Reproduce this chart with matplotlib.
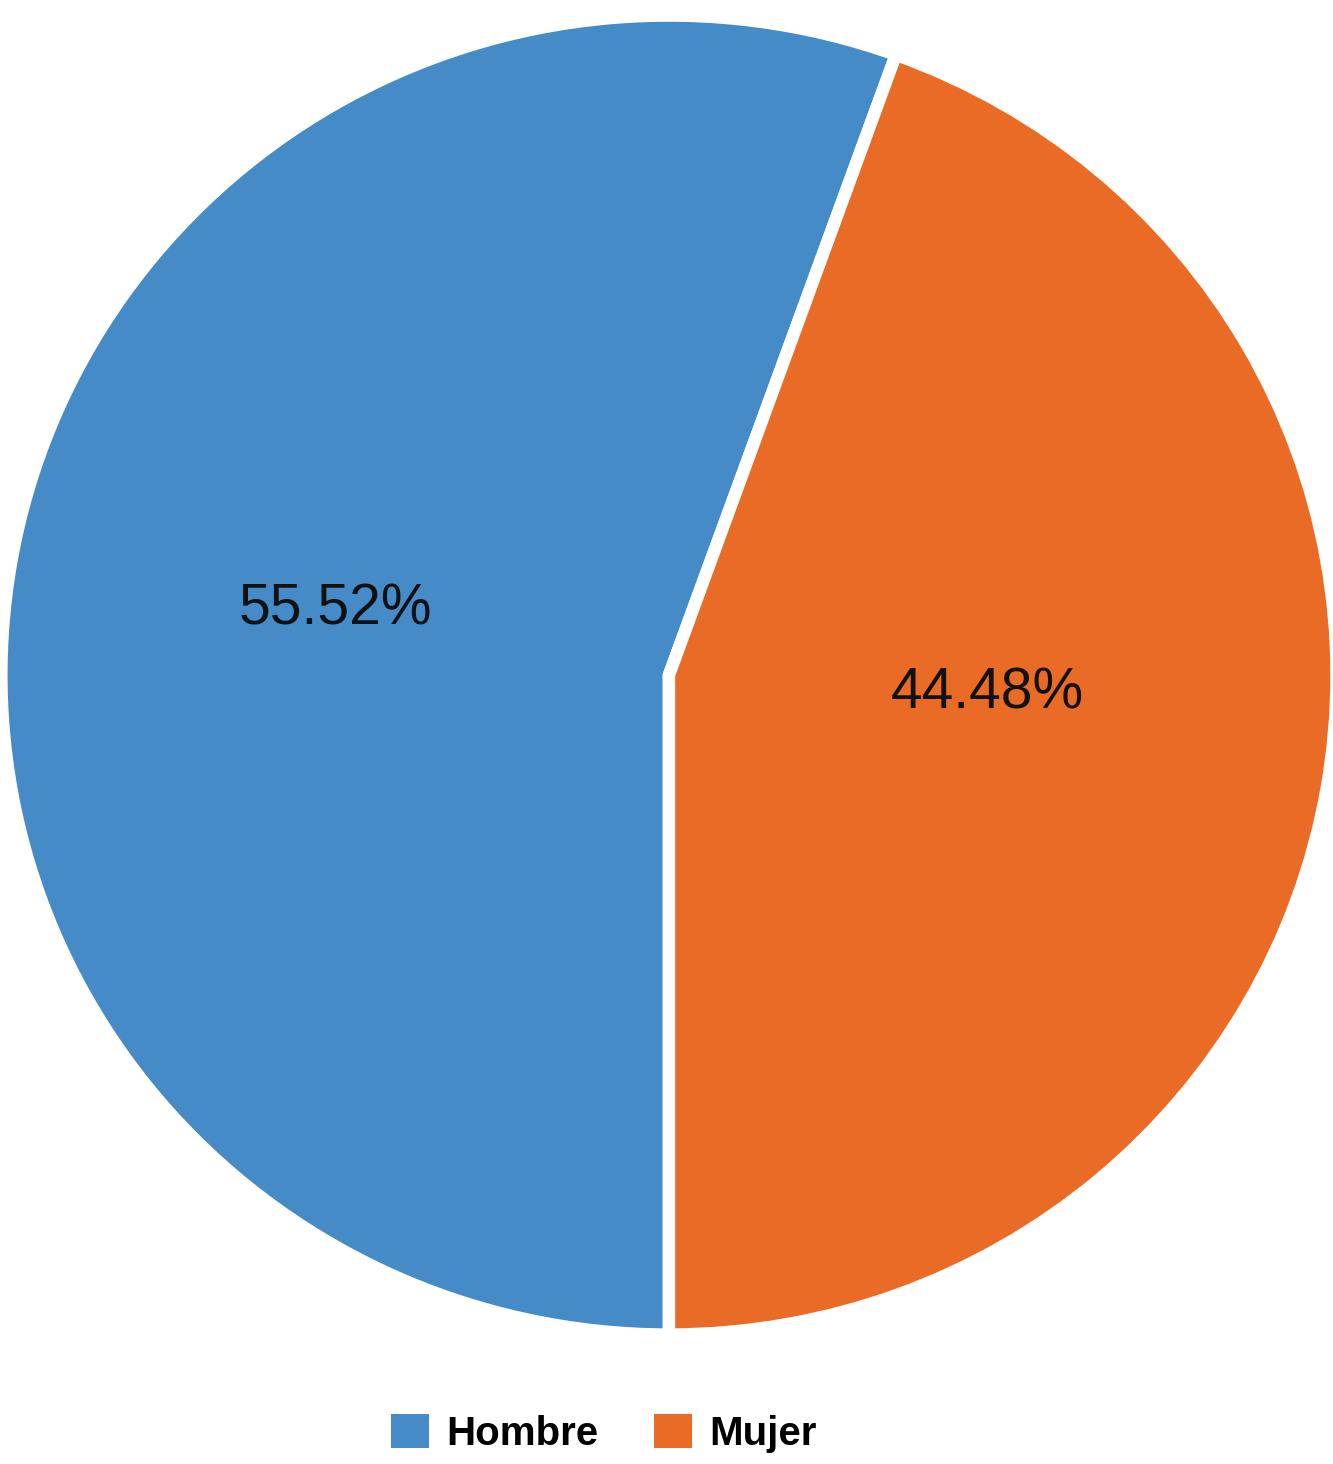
import matplotlib.pyplot as plt

# Distribución por sexo
categorias = ['Hombre', 'Mujer']
porcentajes = [55.52, 44.48]
colores = ['#458BC8', '#E96B25']
# posición de las etiquetas de porcentaje (coordenadas del pie)
pos_etiquetas = [(-0.50, 0.10), (0.477, -0.028)]

plt.rcParams['font.family'] = ['Liberation Sans', 'DejaVu Sans']

fig = plt.figure(figsize=(13.33, 14.64), dpi=100)
ax = fig.add_axes([0.006, 0.0929, 0.9917, 0.892])

wedges, textos, autotextos = ax.pie(
    porcentajes,
    colors=colores,
    startangle=270,
    counterclock=False,
    autopct='%.2f%%',
    pctdistance=0.5,
    wedgeprops=dict(edgecolor='white', linewidth=9),
    textprops=dict(fontsize=41, color='#111111'),
)
for t, p in zip(autotextos, pos_etiquetas):
    t.set_position(p)

ax.set_aspect('auto')
ax.set_xlim(-0.99, 0.99)
ax.set_ylim(-0.99, 0.99)

fig.legend(wedges, categorias, loc='center', bbox_to_anchor=(0.453, 0.021),
           ncol=2, frameon=False, borderpad=0, handlelength=0.94,
           handleheight=0.94, handletextpad=0.42, columnspacing=1.4,
           prop=dict(size=29, weight='bold'))

# quitar borde blanco de los parches de la leyenda
leg = fig.legends[0]
for h in leg.legend_handles:
    h.set_linewidth(0)

fig.savefig('out.png', dpi=100)
